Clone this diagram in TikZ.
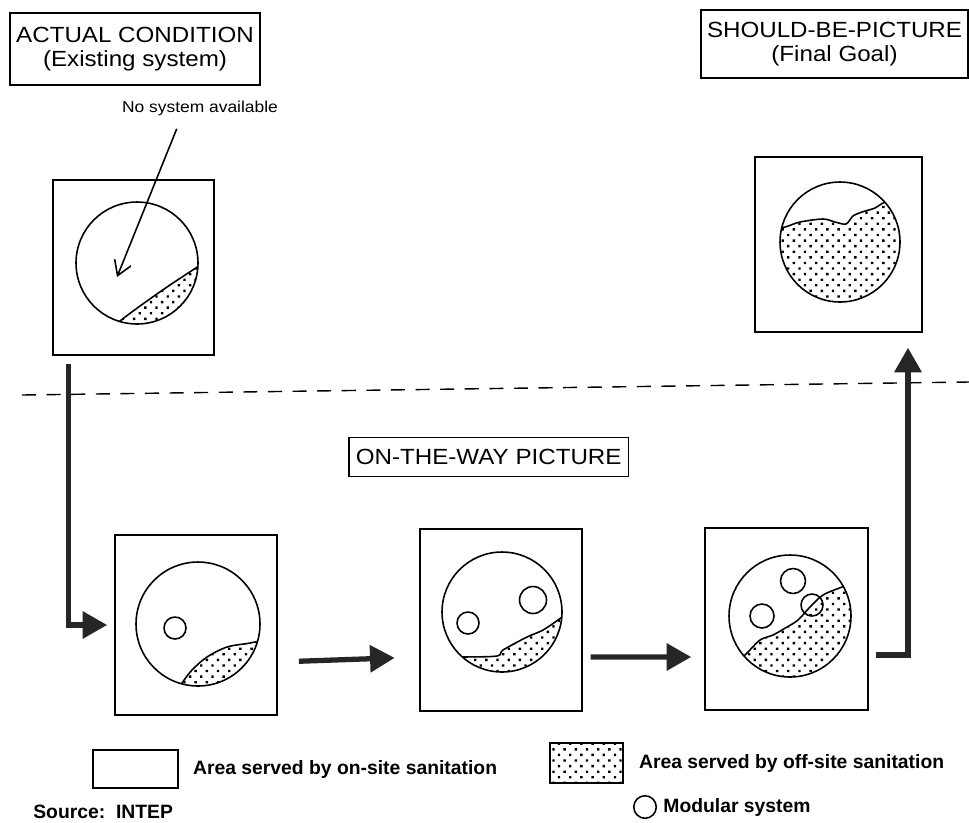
\documentclass[tikz,border=0pt]{standalone}
\usepackage{fontspec}
\setmainfont{Liberation Sans}
\newfontfamily\headfont{Liberation Sans}[FakeStretch=1.1]
\usepackage{tikz}
\usetikzlibrary{arrows.meta,
                positioning,
                patterns.meta}
\tikzstyle{arrow} = [line width=3pt,black!85,-{Triangle[length=14pt,width=15pt]}]
\tikzstyle{pointer} = [line width=0.9pt,-{Straight Barb[length=8pt,width=10pt]}]
\tikzstyle{frame} = [draw,line width=0.9pt,inner sep=0pt]
\tikzstyle{disc} = [circle,draw,line width=0.9pt,inner sep=0pt,minimum size=2.44cm]
\tikzstyle{modular} = [circle,draw,line width=0.9pt,inner sep=0pt]
\tikzstyle{offsite} = [pattern={Dots[distance=4.5pt,radius=0.95pt,angle=45]}]
\tikzstyle{title} = [draw,line width=0.9pt,align=center,font=\headfont\fontsize{12.5}{14}\selectfont]
\tikzstyle{legend} = [inner sep=0pt,font=\bfseries\fontsize{11}{13}\selectfont]

\begin{document}
\begin{tikzpicture}[x=0.02cm,y=-0.02cm]
    \useasboundingbox (0,0) rectangle (969,822);

    \node[title, minimum width=5cm, minimum height=1.44cm] (ac) at (135,49) {ACTUAL CONDITION\\(Existing system)};
    \node[title, minimum width=5.3cm, minimum height=1.36cm] (sb) at (834.5,44) {SHOULD-BE-PICTURE\\(Final Goal)};
    \node[title, anchor=west, inner xsep=4pt, inner ysep=0pt, minimum height=0.78cm] (ow) at (348,457) {ON-THE-WAY PICTURE};
    \node[inner sep=0pt, font=\headfont\fontsize{9}{11}\selectfont] (ns) at (200,108) {No system available};

    \node[frame, minimum width=3.22cm, minimum height=3.5cm] (pc1) at (133.5,267.5) {};
    \node[frame, minimum width=3.24cm, minimum height=3.6cm] (pc2) at (196,625) {};
    \node[frame, minimum width=3.24cm, minimum height=3.64cm] (pc3) at (501,620) {};
    \node[frame, minimum width=3.26cm, minimum height=3.64cm] (pc4) at (786.5,619) {};
    \node[frame, minimum width=3.34cm, minimum height=3.5cm] (pc5) at (838.5,244.5) {};

    \node[disc] (ci1) at (137,263) {};
    \node[disc, minimum size=2.48cm] (ci2) at (198,624) {};
    \node[disc, minimum size=2.4cm] (ci3) at (502,612) {};
    \node[disc] (ci4) at (790,616) {};
    \node[disc, minimum size=2.4cm] (ci5) at (840,242) {};

    % off-site parts
    \begin{scope}
    \clip (ci1.center) circle [radius=1.22cm];
    \draw[offsite, line width=0.9pt] plot[smooth] coordinates {(100,340) (115,325) (140,306) (170,285) (205,262)} -- (220,350) -- (100,350) -- cycle;
    \end{scope}
    \begin{scope}
    \clip (ci2.center) circle [radius=1.24cm];
    \draw[offsite, line width=0.9pt] plot[smooth] coordinates {(170,700) (182,683) (192,670) (207,657) (227,647) (250,643) (275,638)} -- (275,710) -- (170,710) -- cycle;
    \end{scope}
    \begin{scope}
    \clip (ci3.center) circle [radius=1.2cm];
    \draw[offsite, line width=0.9pt] plot[smooth] coordinates {(430,657) (462,657) (497,656) (503,650) (527,637) (543,630) (562,617) (575,605)} -- (580,690) -- (430,690) -- cycle;
    \end{scope}
    \begin{scope}
    \clip (ci4.center) circle [radius=1.22cm];
    \draw[offsite, line width=0.9pt] plot[smooth] coordinates {(730,668) (745,655) (760,640) (773,635) (787,627) (798,620) (810,607) (823,595) (842,587) (865,578)} -- (870,700) -- (730,700) -- cycle;
    \end{scope}
    \begin{scope}
    \clip (ci5.center) circle [radius=1.2cm];
    \draw[offsite, line width=0.9pt] plot[smooth] coordinates {(770,229) (785,227) (800,222) (823,219) (835,222) (846,224) (853,216) (862,212) (875,208) (885,202) (910,192)} -- (915,320) -- (770,320) -- cycle;
    \end{scope}

    \node[modular, minimum size=0.44cm] (mo1) at (175,628) {};
    \node[modular, minimum size=0.44cm] (mo2) at (468,623) {};
    \node[modular, minimum size=0.54cm] (mo3) at (533,600) {};
    \node[modular, minimum size=0.5cm] (mo4) at (793,581) {};
    \node[modular, minimum size=0.48cm] (mo5) at (762,616) {};
    \node[modular, minimum size=0.44cm] (mo6) at (812,605) {};

    \coordinate (tip) at (117,277);
    \coordinate (dl1) at (22,395);
    \coordinate (dl2) at (969,382);
    \draw [pointer, shorten <=8pt] ([xshift=-0.36cm]ns.south) -- (tip);
    \draw [dashed, dash pattern=on 8pt off 6pt, line width=0.8pt] (dl1) -- (dl2);

    \draw [arrow, shorten <=4.5pt, shorten >=4pt] ([xshift=0.32cm]pc1.south west) |- (pc2.west);
    \draw [arrow, shorten <=12pt, shorten >=14pt] ([yshift=-0.74cm]pc2.east) -- ([yshift=-0.74cm]pc3.west);
    \draw [arrow, shorten <=4.5pt, shorten >=7.4pt] ([yshift=-0.74cm]pc3.east) -- ([yshift=-0.76cm]pc4.west);
    \draw [arrow, shorten <=4pt, shorten >=8.5pt] ([yshift=-0.72cm]pc4.east) -| ([xshift=1.39cm]pc5.south);

    % legend
    \node[frame, minimum width=1.7cm, minimum height=0.76cm] (lg1) at (135.5,769) {};
    \node[legend, right=0.28cm of lg1] (lt1) {Area served by on-site sanitation};
    \node[frame, offsite, minimum width=1.46cm, minimum height=0.8cm] (lg2) at (586.5,763) {};
    \node[legend, right=0.3cm of lg2] (lt2) {Area served by off-site sanitation};
    \node[modular, minimum size=0.45cm] (lg3) at (645,807) {};
    \node[legend, right=0.12cm of lg3] (lt3) {Modular system};
    \node[legend, anchor=west] (src) at (33,812) {Source:\ \ INTEP};
\end{tikzpicture}
\end{document}
